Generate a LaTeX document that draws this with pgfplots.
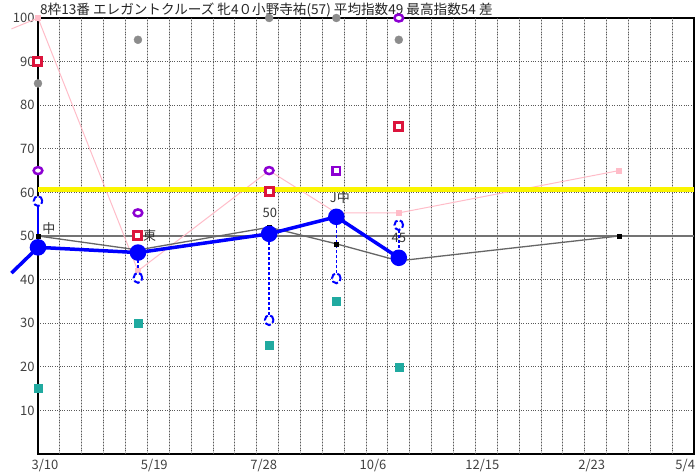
\documentclass[border=0pt]{standalone}
\usepackage{fontspec}
\setmainfont{Noto Sans CJK JP}
\usepackage{pgfplots}
\pgfplotsset{compat=1.18}
\definecolor{crim}{RGB}{220,20,60}
\definecolor{purp}{RGB}{140,0,210}
\definecolor{teal2}{RGB}{32,170,160}
\definecolor{pinkl}{RGB}{255,188,200}
\definecolor{yel}{RGB}{250,245,0}
\definecolor{gdot}{RGB}{140,140,140}
\definecolor{bl}{RGB}{0,0,255}
\begin{document}
\begin{tikzpicture}
\useasboundingbox (-38bp,-22bp) rectangle (659bp,454bp);
\begin{axis}[
 at={(0,0)}, anchor=south west,
 width=656bp, height=436bp, scale only axis,
 xmin=0, xmax=420, ymin=0, ymax=100,
 clip=false,
 unbounded coords=jump,
 axis line style={black, line width=1.6bp},
 xtick={0,70,...,420},
 xticklabels={3/10,5/19,7/28,10/6,12/15,2/23,\makebox[0pt][r]{5/4\kern6bp}},
 minor xtick={14,28,...,406},
 xminorgrids,
 minor grid style={gray!45, line width=0.8bp},
 extra x ticks={14,28,...,406},
 extra x tick labels={},
 extra x tick style={grid=major, major grid style={black!65, dotted, line width=0.8bp}},
 ytick={10,20,...,100},
 ymajorgrids,
 major grid style={black!65, dotted, line width=0.8bp},
 extra y ticks={50},
 extra y tick labels={},
 extra y tick style={grid=major, major grid style={black!55, solid, line width=1.4bp}},
 major tick length=0pt, minor tick length=0pt,
 tick style={draw=none},
 ticklabel style={font=\fontsize{13bp}{15bp}\selectfont, text=black!75},
 /pgf/number format/assume math mode=true,
 xticklabel style={xshift=7bp, yshift=-2bp},
]
% pink line
\addplot[pinkl, line width=1bp] coordinates {(-17,97.5) (0,100)};
\addplot[pinkl, line width=1bp, mark=square*, mark size=2.5bp, mark options={solid, fill=pinkl}] coordinates {(0,100) (64,42) (148,65) (191,55.3) (231,55.3) (372,65)};
% yellow line
\addplot[yel, line width=5bp] coordinates {(0,60.7) (420,60.7)};
% gray line
\addplot[black!60, line width=1.3bp] coordinates {(0,50) (64,46.8) (148,52) (191,48.2) (231,44.3) (372,50)};
\addplot[only marks, mark=square*, black, mark size=2bp] coordinates {(0,50) (64,46.8) (148,52) (191,48.2) (231,44.3) (372,50)};
% blue verticals
\addplot[color=bl, line width=1.3bp, mark=none] coordinates {(0,58) (0,47.4)};
\addplot[color=bl, densely dashed, line width=1.4bp, mark=none] coordinates {(64,40.4) (64,46.2) (64,nan) (148,30.7) (148,50.5) (148,nan) (191,40.3) (191,54.4) (191,nan) (231,52.5) (231,45)};
% blue thick
\addplot[bl, line width=3.5bp] coordinates {(-17,41.5) (0,47.4)};
\addplot[bl, line width=3.5bp, mark=*, mark size=6.5bp, mark options={fill=bl}] coordinates {(0,47.4) (64,46.2) (148,50.5) (191,54.4) (231,45)};
% red squares
\addplot[only marks, mark=square*, mark size=4bp, mark options={draw=crim, fill=white, line width=3bp}] coordinates {(0,90) (64,50) (148,60.2) (231,75.2)};
% purple
\addplot[only marks, mark=*, mark size=3.5bp, mark options={draw=purp, fill=white, line width=2.5bp, xscale=1.25}] coordinates {(0,65) (64,55.3) (148,65) (231,100)};
\addplot[only marks, mark=square*, mark size=3.8bp, mark options={draw=purp, fill=white, line width=2.5bp}] coordinates {(191,65)};
% gray dots
\addplot[only marks, mark=*, mark size=4bp, mark options={draw=gdot, fill=gdot}] coordinates {(0,85) (64,95) (148,100) (191,100) (231,95)};
% teal squares
\addplot[only marks, mark=square*, mark size=4bp, mark options={draw=teal2, fill=teal2}] coordinates {(0,15) (64,30) (148,25) (191,35) (231,20)};
% blue dashed circles
\addplot[only marks, mark=*, mark size=4.3bp, mark options={draw=bl, fill=white, line width=2bp, dash pattern=on 6bp off 2.5bp, yscale=1.15}] coordinates {(0,58) (64,40.4) (148,30.7) (191,40.3) (231,52.5)};
% labels
\node[font=\fontsize{13bp}{15bp}\selectfont, text=black!80] at (axis cs:7,51.6) {中};
\node[font=\fontsize{13bp}{15bp}\selectfont, text=black!80] at (axis cs:71.5,50.2) {東};
\node[font=\fontsize{13bp}{15bp}\selectfont, text=black!80] at (axis cs:148.5,55.3) {50};
\node[font=\fontsize{13bp}{15bp}\selectfont, text=black!80] at (axis cs:193.3,58.9) {J中};
\node[font=\fontsize{13bp}{15bp}\selectfont, text=black!80] at (axis cs:231,49.5) {45};
% title
\node[anchor=base west, inner sep=0pt, font=\fontsize{13.6bp}{15bp}\selectfont, text=black!85] at (rel axis cs:0,1) [xshift=2bp, yshift=3bp] {8枠13番 エレガントクルーズ 牝4０小野寺祐(57) 平均指数49 最高指数54 差};
\end{axis}
\end{tikzpicture}
\end{document}
